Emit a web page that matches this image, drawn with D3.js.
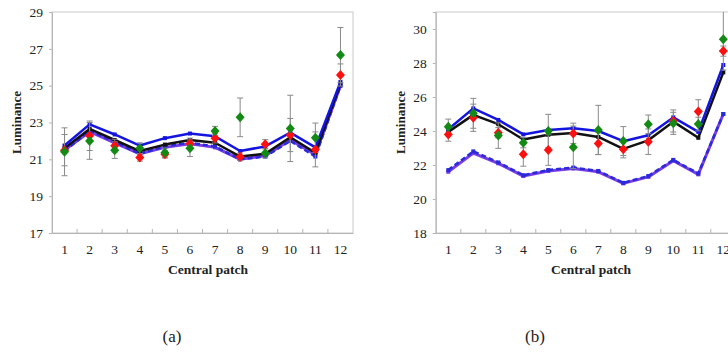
<!DOCTYPE html>
<html>
<head>
<meta charset="utf-8">
<script src="https://cdn.jsdelivr.net/npm/d3@7"></script>
<style>
  html, body { margin: 0; padding: 0; background: #fff; }
  svg { display: block; }
  text { font-family: "Liberation Serif", "Times New Roman", serif; fill: #222; }
</style>
</head>
<body>
<svg id="chart" width="728" height="354"></svg>
<script>
// Central patch categories
const patches = ["1","2","3","4","5","6","7","8","9","10","11","12"];

// Panel (a)
const aTicks = [17, 19, 21, 23, 25, 27, 29];
const aBlue = [21.75, 22.9, 22.35, 21.75, 22.15, 22.4, 22.25, 21.45, 21.7, 22.45, 21.65, 25.2];
const aBlack = [21.6, 22.65, 22.05, 21.45, 21.8, 22.05, 21.9, 21.15, 21.3, 22.2, 21.35, 25.1];
const aPurple = [21.5, 22.5, 21.9, 21.3, 21.65, 21.85, 21.65, 21.0, 21.2, 22.05, 21.25, 25.0];
const aBlueDash = [21.45, 22.55, 21.95, 21.3, 21.7, 21.9, 21.7, 21.0, 21.15, 22.0, 21.15, 25.0];
const aRed = [21.5, 22.28, 21.74, 21.1, 21.27, 21.85, 22.14, 21.14, 21.82, 22.32, 21.54, 25.58];
const aRedErr = [0.85, 0.8, 0.35, 0.2, 0.2, 0.3, 0.25, 0.2, 0.25, 0.9, 0.95, 0.6];
const aGreen = [21.41, 22.0, 21.5, 21.6, 21.36, 21.6, 22.54, 23.28, 21.33, 22.68, 22.17, 26.66];
const aGreenErr = [1.3, 1.0, 0.45, 0.3, 0.25, 0.45, 0.25, 1.05, 0.25, 1.8, 0.8, 1.5];

// Panel (b)
const bTicks = [18, 20, 22, 24, 26, 28, 30];
const bBlue = [24.1, 25.33, 24.65, 23.8, 24.06, 24.16, 24.0, 23.4, 23.75, 24.8, 23.95, 27.88];
const bBlack = [23.95, 24.95, 24.4, 23.5, 23.78, 23.88, 23.65, 22.95, 23.45, 24.55, 23.6, 27.45];
const bPurple = [21.6, 22.7, 22.1, 21.35, 21.65, 21.8, 21.6, 20.92, 21.3, 22.25, 21.45, 25.0];
const bBlueDash = [21.7, 22.8, 22.15, 21.4, 21.7, 21.85, 21.65, 20.95, 21.35, 22.3, 21.5, 25.0];
const bRed = [23.8, 24.78, 23.9, 22.63, 22.88, 23.86, 23.27, 22.92, 23.37, 24.59, 25.14, 28.7];
const bRedErr = [0.4, 0.8, 0.3, 0.7, 0.9, 0.6, 0.65, 0.5, 0.75, 0.65, 0.7, 0.3];
const bGreen = [24.25, 25.04, 23.73, 23.31, 24.0, 23.04, 24.06, 23.41, 24.39, 24.45, 24.41, 29.39];
const bGreenErr = [0.45, 0.88, 0.75, 0.3, 0.98, 1.25, 1.45, 0.85, 0.55, 0.65, 0.4, 1.8];

const svg = d3.select("#chart");

function panel(cfg) {
  const { left, right, top, bottom, domain, ticks, lines, points, yLabelX, tag, tagX, id } = cfg;
  const x = d3.scaleBand().domain(patches).range([left, right]).padding(0);
  const y = d3.scaleLinear().domain(domain).range([bottom, top]);
  const cx = d => x(d) + x.bandwidth() / 2;

  const g = svg.append("g");

  g.append("clipPath").attr("id", id).append("rect")
    .attr("x", left).attr("y", top).attr("width", right - left).attr("height", bottom - top);

  // plot-area frame
  g.append("rect")
    .attr("x", left).attr("y", top).attr("width", right - left).attr("height", bottom - top)
    .attr("fill", "none").attr("stroke", "#c9c9c9").attr("stroke-width", 1);

  // y axis
  const ya = g.append("g").attr("transform", `translate(${left},0)`)
    .call(d3.axisLeft(y).tickValues(ticks).tickSize(3).tickPadding(6).tickFormat(d3.format("d")));
  ya.select(".domain").attr("stroke", "#b5b5b5");
  ya.selectAll(".tick line").attr("stroke", "#b5b5b5");
  ya.selectAll(".tick text").style("font-family", "Liberation Serif, serif").style("font-size", "13.5px").attr("fill", "#333");

  // x axis: labels at category centres, ticks at category boundaries
  const xa = g.append("g").attr("transform", `translate(0,${bottom})`)
    .call(d3.axisBottom(x).tickSize(0).tickPadding(11));
  xa.select(".domain").attr("stroke", "#b5b5b5");
  xa.selectAll(".tick text").style("font-family", "Liberation Serif, serif").style("font-size", "13.5px").attr("fill", "#333");
  g.append("g").selectAll("line").data(patches.slice(1)).join("line")
    .attr("x1", d => x(d)).attr("x2", d => x(d))
    .attr("y1", bottom).attr("y2", bottom - 4)
    .attr("stroke", "#b5b5b5");

  const plot = g.append("g").attr("clip-path", `url(#${id})`);

  // series lines, each with a thin white halo
  const line = d3.line().x((d, i) => cx(patches[i])).y(d => y(d));
  lines.forEach(s => {
    plot.append("path").datum(s.values).attr("d", line)
      .attr("fill", "none").attr("stroke", "#fff").attr("stroke-width", s.width + 2)
      .attr("stroke-linejoin", "round");
  });
  lines.forEach(s => {
    plot.append("path").datum(s.values).attr("d", line)
      .attr("fill", "none").attr("stroke", s.color).attr("stroke-width", s.width)
      .attr("stroke-linejoin", "round")
      .attr("stroke-dasharray", s.dash || null);
    plot.append("g").selectAll("rect").data(s.values).join("rect")
      .attr("x", (d, i) => cx(patches[i]) - 2).attr("y", d => y(d) - 2)
      .attr("width", 4).attr("height", 4).attr("fill", s.color);
  });

  // error bars and diamond markers
  points.forEach(s => {
    const eg = plot.append("g").attr("stroke", "#8a8a8a").attr("stroke-width", 1);
    s.values.forEach((v, i) => {
      const px = cx(patches[i]);
      const y1 = y(v + s.err[i]), y2 = y(v - s.err[i]);
      eg.append("line").attr("x1", px).attr("x2", px).attr("y1", y1).attr("y2", y2);
      eg.append("line").attr("x1", px - 3).attr("x2", px + 3).attr("y1", y1).attr("y2", y1);
      eg.append("line").attr("x1", px - 3).attr("x2", px + 3).attr("y1", y2).attr("y2", y2);
    });
  });
  points.forEach(s => {
    plot.append("g").selectAll("path").data(s.values).join("path")
      .attr("d", "M0,-5L4.5,0L0,5L-4.5,0Z")
      .attr("transform", (d, i) => `translate(${cx(patches[i])},${y(d)})`)
      .attr("fill", s.color);
  });

  // axis titles
  g.append("text")
    .attr("transform", `translate(${yLabelX},${(top + bottom) / 2}) rotate(-90)`)
    .attr("text-anchor", "middle").attr("dominant-baseline", "middle")
    .style("font-weight", "bold").style("font-size", "13px")
    .text("Luminance");
  g.append("text")
    .attr("x", cfg.xLabelX).attr("y", 274)
    .attr("text-anchor", "middle")
    .style("font-weight", "bold").style("font-size", "13.5px")
    .text("Central patch");

  g.append("text")
    .attr("x", tagX).attr("y", 342)
    .attr("text-anchor", "middle")
    .style("font-size", "17px")
    .text(tag);
}

panel({
  id: "clipA", left: 52, right: 353, top: 12, bottom: 233,
  domain: [17, 29], ticks: aTicks, yLabelX: 18, xLabelX: 208, tag: "(a)", tagX: 172,
  lines: [
    { values: aPurple, color: "#7a3ee6", width: 3 },
    { values: aBlueDash, color: "#2a2ad8", width: 2.5, dash: "5,3" },
    { values: aBlack, color: "#111", width: 2.5 },
    { values: aBlue, color: "#1414e0", width: 2.5 }
  ],
  points: [
    { values: aRed, err: aRedErr, color: "#ff1010" },
    { values: aGreen, err: aGreenErr, color: "#138a13" }
  ]
});

panel({
  id: "clipB", left: 435.8, right: 735.8, top: 12, bottom: 233,
  domain: [18, 31], ticks: bTicks, yLabelX: 402, xLabelX: 591, tag: "(b)", tagX: 535,
  lines: [
    { values: bPurple, color: "#7a3ee6", width: 3 },
    { values: bBlueDash, color: "#2a2ad8", width: 2.5, dash: "5,3" },
    { values: bBlack, color: "#111", width: 2.5 },
    { values: bBlue, color: "#1414e0", width: 2.5 }
  ],
  points: [
    { values: bRed, err: bRedErr, color: "#ff1010" },
    { values: bGreen, err: bGreenErr, color: "#138a13" }
  ]
});
</script>
</body>
</html>
